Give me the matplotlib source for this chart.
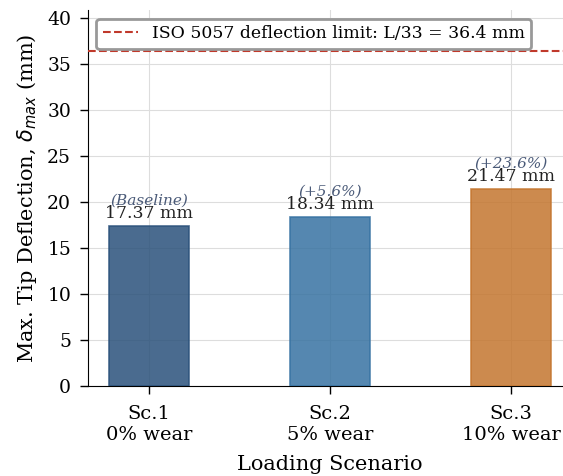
import matplotlib.pyplot as plt

scenarios = ["Sc.1\n0% wear", "Sc.2\n5% wear", "Sc.3\n10% wear"]
deflection = [17.37, 18.34, 21.47]
change_labels = ["(Baseline)", "(+5.6%)", "(+23.6%)"]
bar_colors = ["#2a517b", "#3772a2", "#c4762f"]
limit = 36.4

plt.rcParams["font.family"] = "DejaVu Serif"
plt.rcParams["mathtext.fontset"] = "dejavusans"

fig = plt.figure(figsize=(5.63, 4.76), dpi=100)
ax = fig.add_axes([0.156, 0.189, 0.86, 0.79])

x = list(range(len(scenarios)))
ax.bar(x, deflection, width=0.44, color=bar_colors, alpha=0.85,
       edgecolor=bar_colors, linewidth=1.2, zorder=3)
ax.axhline(limit, color="#c0392b", linestyle="--", linewidth=1.5,
           label="ISO 5057 deflection limit: L/33 = 36.4 mm", zorder=4)

for i in x:
    ax.text(i, deflection[i] + 0.45, "%.2f mm" % deflection[i],
            ha="center", va="bottom", fontsize=12.4, color="#222222", zorder=5)
    ax.text(i, deflection[i] + 2.0, change_labels[i], ha="center",
            va="bottom", fontsize=11, style="italic", color="#4a5a78",
            zorder=5)

ax.set_xlim(-0.337, 2.337)
ax.set_ylim(0, 40.9)
ax.set_xticks(x)
ax.set_xticklabels(scenarios, fontsize=14)
ax.tick_params(axis="x", length=6, width=1, pad=8)
ax.tick_params(axis="y", labelsize=13.5, length=6, width=1, pad=6)
ax.set_xlabel("Loading Scenario", fontsize=15, labelpad=8)
ax.set_ylabel(r"Max. Tip Deflection, $\delta_{max}$ (mm)", fontsize=15,
              labelpad=6)
ax.grid(True, color="#dddddd", linewidth=0.8, zorder=0)
ax.spines["top"].set_visible(False)
ax.spines["right"].set_visible(False)

leg = ax.legend(loc="upper left", fontsize=12.4, frameon=True, fancybox=True,
                framealpha=1.0)
leg.get_frame().set_edgecolor("#999999")
leg.get_frame().set_linewidth(2)

fig.savefig("out.png", dpi=100)
